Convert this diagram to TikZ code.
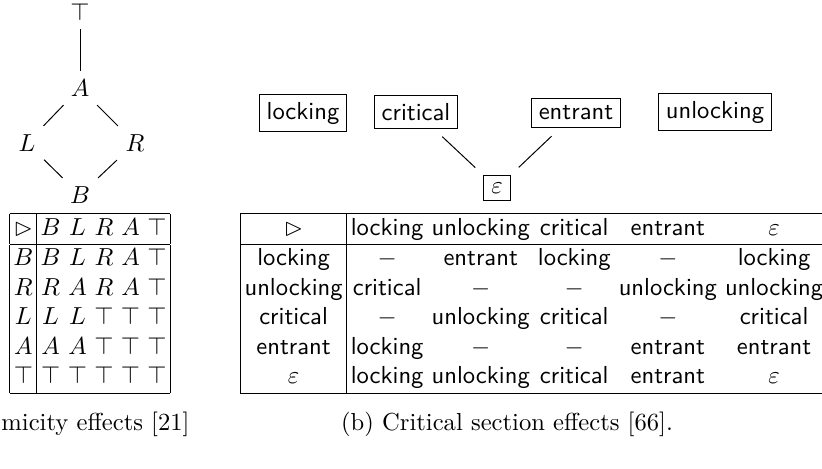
\documentclass[tikz,border=0pt]{standalone}
\usepackage{amssymb, amsmath}
\usepackage{tikz}
\usetikzlibrary{positioning,calc}
\setlength{\tabcolsep}{1.65pt}
\setlength{\arraycolsep}{1.5pt}

\begin{document}
\begin{tikzpicture}[x=0.4065pt, y=-0.4065pt]
\tikzset{
elem/.style     = {inner sep=0.3333em},
effect/.style   = {draw, shape=rectangle, inner sep=3pt, outer sep=3.5pt, font=\sffamily},
tabbox/.style   = {inner sep=0pt},
caption/.style  = {inner sep=0pt, anchor=base},
}
    \useasboundingbox (0,0) rectangle (822,468);
    \clip (0,0) rectangle (822,468);

    % Lattice nodes
    \node [elem, inner sep=0pt] (top) at (80,12) {$\top$};
    \node [elem] (A)   at (80,88)   {$A$};
    \node [elem] (L)   at (27,143)  {$L$};
    \node [elem] (R)   at (135,143) {$R$};
    \node [elem] (B)   at (80,195)  {$B$};

    % Lattice edges
    \draw [shorten <=3.3pt] (top) -- (A);
    \draw (A)   -- (L);
    \draw (A)   -- (R);
    \draw (L)   -- (B);
    \draw (R)   -- (B);

    % Effect nodes
    \node [effect] (locking)   at (303,113) {locking};
    \node [effect] (critical)  at (416,112) {critical};
    \node [effect] (entrant)   at (576,113) {entrant};
    \node [effect] (unlocking) at (715,112) {unlocking};
    \node [effect] (eps)       at (497,188) {$\varepsilon$};

    % Effect edges
    \draw (critical) -- (eps);
    \draw (entrant)  -- (eps);

    % Tables
    \node [tabbox, anchor=north] (atomtab) at (90,213) {$\begin{array}{|c|ccccc|}
        \hline
        \rhd & B & L & R & A & \top \\ \hline
        B & B & L & R & A & \top \\
        R & R & A & R & A & \top \\
        L & L & L & \top & \top & \top \\
        A & A & A & \top & \top & \top \\
        \top & \top & \top & \top & \top & \top \\ \hline
    \end{array}$};
    \node [tabbox, anchor=north west, font=\sffamily] (crittab) at (240,213) {\begin{tabular}{|c|ccccc|}
        \hline
        $\rhd$ & locking & unlocking & critical & entrant & $\varepsilon$ \\ \hline
        locking & $-$ & entrant & locking & $-$ & locking \\
        unlocking & critical & $-$ & $-$ & unlocking & unlocking \\
        critical & $-$ & unlocking & critical & $-$ & critical \\
        entrant & locking & $-$ & $-$ & entrant & entrant \\
        $\varepsilon$ & locking & unlocking & critical & entrant & $\varepsilon$ \\ \hline
    \end{tabular}};

    % Captions
    \node [caption, anchor=base west] (capa) at (1,430) {micity effects [21]};
    \node [caption] (capb) at (507,430) {(b) Critical section effects [66].};

\end{tikzpicture}
\end{document}
